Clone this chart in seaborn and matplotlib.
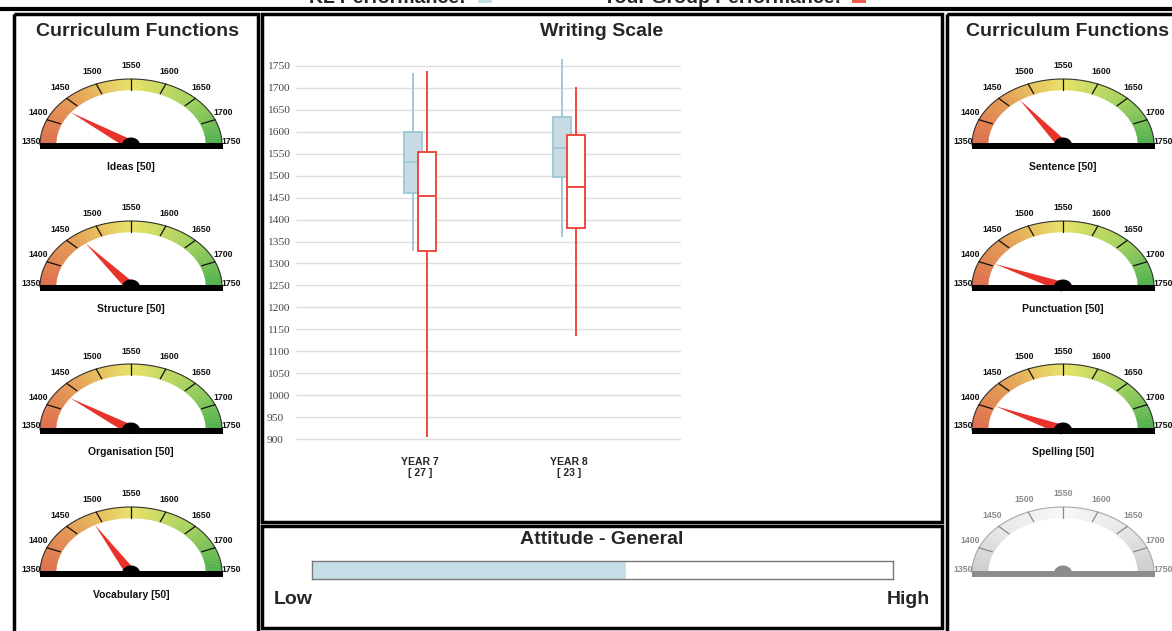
import numpy as np
import pandas as pd
import seaborn as sns
import matplotlib.pyplot as plt
from matplotlib.patches import Rectangle, Polygon
from matplotlib.colors import LinearSegmentedColormap

# writing scale, five-number summaries
years = ['YEAR 7\n[ 27 ]', 'YEAR 8\n[ 23 ]']
kl_min = [1329, 1361]
kl_q1 = [1461, 1496]
kl_med = [1531, 1564]
kl_q3 = [1599, 1633]
kl_max = [1733, 1766]
grp_min = [905, 1135]
grp_q1 = [1329, 1380]
grp_med = [1453, 1475]
grp_q3 = [1555, 1592]
grp_max = [1739, 1701]

# curriculum function gauges
left_names = ['Ideas [50]', 'Structure [50]', 'Organisation [50]', 'Vocabulary [50]']
left_values = [1431, 1467, 1429, 1486]
right_names = ['Sentence [50]', 'Punctuation [50]', 'Spelling [50]']
right_values = [1472, 1405, 1407]
gauge_ticks = [1350, 1400, 1450, 1500, 1550, 1600, 1650, 1700, 1750]

# attitude bar, share of the low-high scale
attitude = 0.54

sns.set_style('white')
plt.rcParams['font.family'] = ['Liberation Sans', 'DejaVu Sans']

W, H = 1172, 631
fig = plt.figure(figsize=(W / 100, H / 100), dpi=100)
ov = fig.add_axes([0, 0, 1, 1])
ov.set_xlim(0, W)
ov.set_ylim(H, 0)
ov.axis('off')

colour_cmap = LinearSegmentedColormap.from_list(
    'g', ['#dd6a4a', '#e49a52', '#e8e266', '#a2d15c', '#4caf4c'])
grey_cmap = LinearSegmentedColormap.from_list(
    'gr', ['#cdcdcd', '#e8e8e8', '#f8f8f8', '#e8e8e8', '#cdcdcd'])


def gauge(ax, cx, cy, value=None, label=None, grey=False):
    rx, ry = 91, 66
    irx, iry = 75, 55
    cmap = grey_cmap if grey else colour_cmap
    edge = '#aaaaaa' if grey else '#333333'
    tick_c = '#8a8a8a' if grey else '#111111'
    txt_c = '#8a8a8a' if grey else '#111111'
    base_c = '#8c8c8c' if grey else 'black'
    lo, hi = gauge_ticks[0], gauge_ticks[-1]
    n = 120
    th = np.linspace(np.pi, 0, n + 1)
    for i in range(n):
        a0, a1 = th[i], th[i + 1]
        pts = [(cx + rx * np.cos(a0), cy - ry * np.sin(a0)),
               (cx + rx * np.cos(a1), cy - ry * np.sin(a1)),
               (cx + irx * np.cos(a1), cy - iry * np.sin(a1)),
               (cx + irx * np.cos(a0), cy - iry * np.sin(a0))]
        c = cmap(i / (n - 1))
        ax.add_patch(Polygon(pts, closed=True, fc=c, ec=c, lw=0.3))
    ax.plot(cx + rx * np.cos(th), cy - ry * np.sin(th), color=edge, lw=0.8)
    for t in gauge_ticks:
        a = np.pi * (hi - t) / (hi - lo)
        if lo < t < hi:
            ax.plot([cx + rx * np.cos(a), cx + 0.84 * rx * np.cos(a)],
                    [cy - ry * np.sin(a), cy - 0.84 * ry * np.sin(a)],
                    color=tick_c, lw=0.9)
        ax.text(cx + 100 * np.cos(a), cy - 4 - 75 * np.sin(a), str(t),
                ha='center', va='center', fontsize=6.3, fontweight='bold', color=txt_c)
    ax.add_patch(Rectangle((cx - rx, cy - 2), 2 * rx + 1, 6, fc=base_c, ec='none', zorder=3))
    if value is not None:
        a = np.pi * (hi - value) / (hi - lo)
        tip = (cx + irx * np.cos(a), cy - iry * np.sin(a))
        dx, dy = tip[0] - cx, tip[1] - cy
        L = np.hypot(dx, dy)
        px, py = -dy / L * 5, dx / L * 5
        ax.add_patch(Polygon([tip, (cx + px, cy + py), (cx - px, cy - py)],
                             fc='#e8332a', ec='none', zorder=2.5))
    ht = np.linspace(0, np.pi, 40)
    ax.add_patch(Polygon(np.column_stack([cx + 9 * np.cos(ht), cy - 7.5 * np.sin(ht)]),
                         fc=base_c, ec='none', zorder=4))
    if label:
        ax.text(cx, cy + 22, label, ha='center', va='center', fontsize=7.5,
                fontweight='bold', color='#111111')


# top rule and cut-off legend
ov.plot([0, W], [9, 9], color='black', lw=3)
ov.text(466, 3, 'KL Performance:', ha='right', va='baseline', fontsize=14, fontweight='bold')
ov.add_patch(Rectangle((478, -5), 14, 8, fc='#c5dde6', ec='none'))
ov.text(841, 3, 'Your Group Performance:', ha='right', va='baseline', fontsize=14, fontweight='bold')
ov.add_patch(Rectangle((852, -5), 14, 8, fc='#ee5a4e', ec='none'))

# panels
for x0, y0, x1, y1 in [(14, 14, 258, 645), (262, 14, 942, 522),
                       (262, 526, 942, 628), (947, 14, 1185, 645)]:
    ov.add_patch(Rectangle((x0, y0), x1 - x0, y1 - y0, fc='none', ec='black', lw=2.5))

title = dict(ha='center', va='center', fontsize=14, fontweight='bold')
ov.text(137, 31, 'Curriculum Functions', **title)
ov.text(1068, 31, 'Curriculum Functions', **title)
ov.text(602, 31, 'Writing Scale', **title)
ov.text(602, 540, 'Attitude - General', **title)
ov.text(274, 600, 'Low', ha='left', va='center', fontsize=14, fontweight='bold')
ov.text(930, 600, 'High', ha='right', va='center', fontsize=14, fontweight='bold')

bases = [145, 287, 430, 573]
for y, name, v in zip(bases, left_names, left_values):
    gauge(ov, 131, y, v, name)
for y, name, v in zip(bases, right_names, right_values):
    gauge(ov, 1063, y, v, name)
gauge(ov, 1063, bases[3], grey=True)

# box plot
kl = pd.DataFrame({'year': np.repeat(years, 5),
                   'score': np.column_stack([kl_min, kl_q1, kl_med, kl_q3, kl_max]).ravel(),
                   'group': 'KL'})
grp = pd.DataFrame({'year': np.repeat(years, 5),
                    'score': np.column_stack([grp_min, grp_q1, grp_med, grp_q3, grp_max]).ravel(),
                    'group': 'Group'})

top, bot = 52.8, 445.6
bx = fig.add_axes([296 / W, 1 - bot / H, (681 - 296) / W, (bot - top) / H])
bx.patch.set_alpha(0)
common = dict(x='year', y='score', hue='group', hue_order=['KL', 'Group'], order=years,
              palette={'KL': '#c5dde6', 'Group': 'white'}, whis=np.inf, width=0.19,
              gap=-0.28, showcaps=False, dodge=True, legend=False, linewidth=1.4, ax=bx)
sns.boxplot(data=kl, linecolor='#9fcad7', **common)
sns.boxplot(data=grp, linecolor='#ee4a3e', boxprops={'zorder': 5},
            medianprops={'zorder': 6}, whiskerprops={'zorder': 5}, **common)
bx.set_xlim(-0.832, 1.752)
bx.set_ylim(885, 1780)
bx.set_yticks(range(900, 1751, 50))
bx.yaxis.grid(True, color='#dedede', lw=1)
bx.set_axisbelow(True)
sns.despine(ax=bx, left=True, bottom=True)
bx.set_xlabel('')
bx.set_ylabel('')
bx.tick_params(axis='y', length=0, pad=20.9, labelsize=8.2, labelcolor='#444444')
bx.tick_params(axis='x', length=0, pad=8)
for lab in bx.get_yticklabels():
    lab.set_ha('left')
    lab.set_family(['Liberation Serif', 'DejaVu Serif'])
for lab in bx.get_xticklabels():
    lab.set_fontsize(7.5)
    lab.set_fontweight('bold')
    lab.set_linespacing(1.15)

# attitude bar
ab = fig.add_axes([312 / W, 1 - 579 / H, (893 - 312) / W, 18 / H])
ab.barh([0], [attitude], height=1, color='#c5dde6')
ab.set_xlim(0, 1)
ab.set_ylim(-0.5, 0.5)
ab.set_xticks([])
ab.set_yticks([])
for s in ab.spines.values():
    s.set_color('#777777')
    s.set_linewidth(1)

fig.savefig('out.png', dpi=100)
